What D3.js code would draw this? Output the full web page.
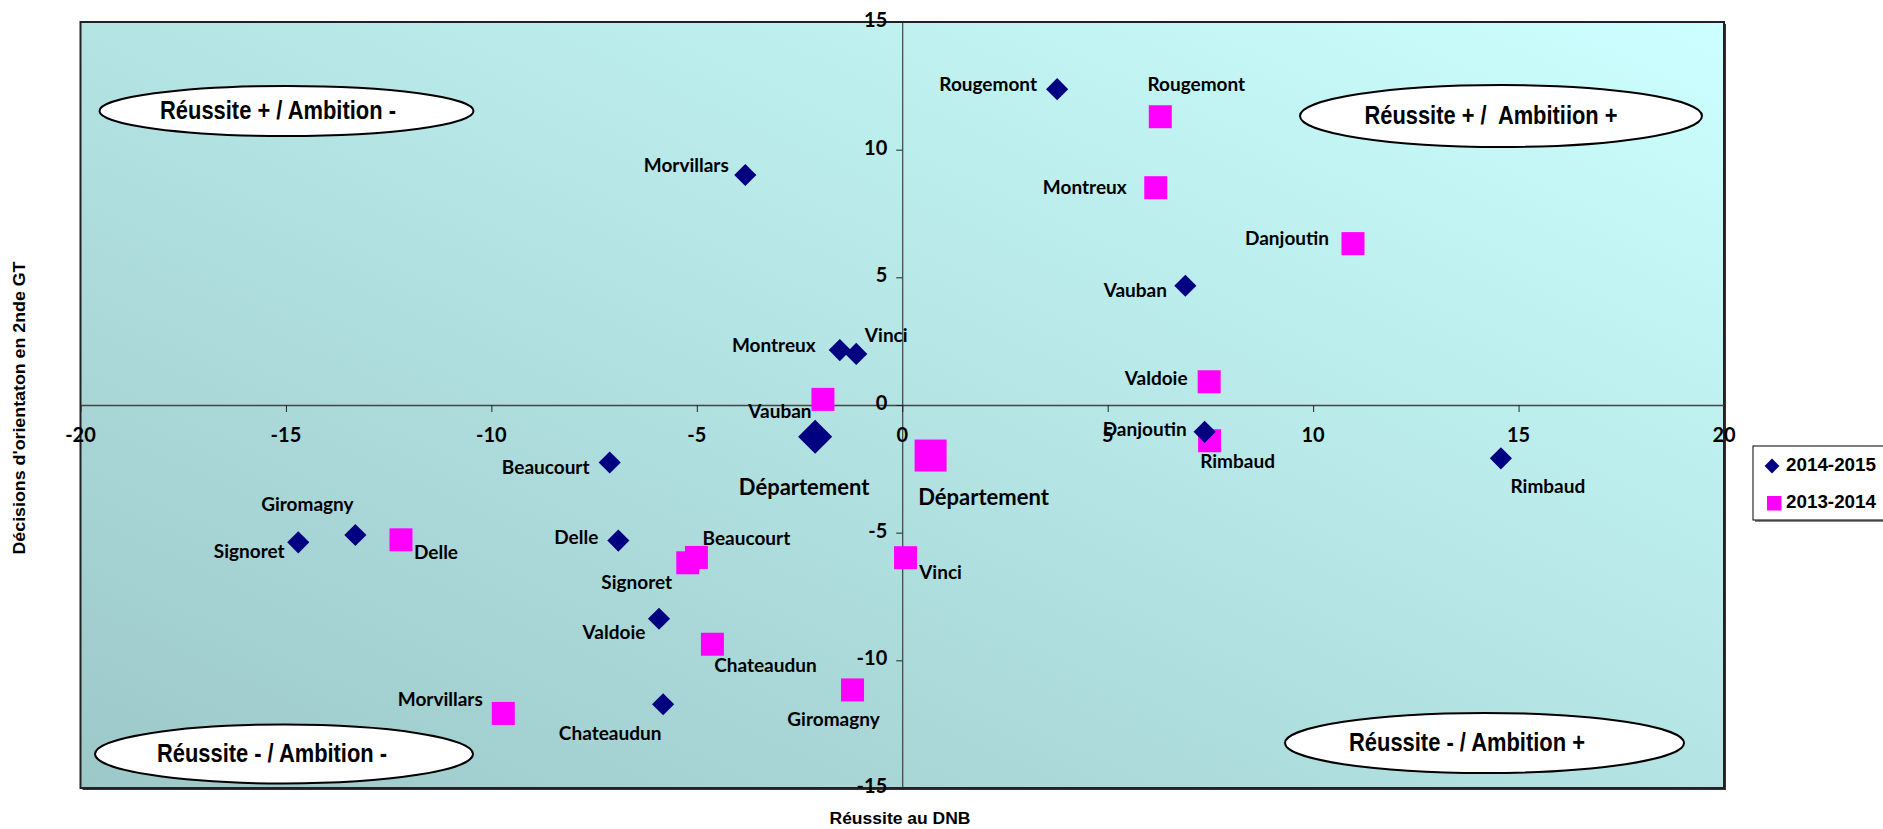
<!DOCTYPE html>
<html lang="fr">
<head>
<meta charset="utf-8">
<title>Réussite au DNB / Décisions d'orientation</title>
<style>
  body { margin: 0; background: #fff; }
  .lbl { font-family: Lato, "Open Sans", sans-serif; font-weight: bold; fill: #000; }
  .tick { font-family: Lato, sans-serif; font-weight: bold; font-size: 20px; fill: #000; }
  .ann { font-family: "Liberation Sans Narrow", "Arial Narrow", "Liberation Sans", sans-serif; font-weight: bold; font-size: 25px; white-space: pre; }
  .axt { font-family: "Liberation Sans", Arial, sans-serif; font-weight: bold; }
</style>
</head>
<body>
<script src="https://d3js.org/d3.v7.min.js"></script>
<script>
// series 2014-2015 (diamonds)
var names2015 = ["Rougemont", "Morvillars", "Montreux", "Vinci", "Vauban", "Département", "Danjoutin",
                 "Rimbaud", "Beaucourt", "Giromagny", "Signoret", "Delle", "Valdoie", "Chateaudun"];
var x2015 = [3.77, -3.82, -1.52, -1.12, 6.89, -2.12, 7.36, 14.57, -7.12, -13.31, -14.70, -6.91, -5.92, -5.82];
var y2015 = [12.37, 9.01, 2.15, 2.0, 4.67, -1.24, -1.05, -2.09, -2.25, -5.09, -5.38, -5.31, -8.37, -11.72];

// series 2013-2014 (squares)
var names2014 = ["Rougemont", "Montreux", "Danjoutin", "Valdoie", "Vauban", "Département", "Rimbaud",
                 "Vinci", "Giromagny", "Delle", "Beaucourt", "Signoret", "Chateaudun", "Morvillars"];
var x2014 = [6.28, 6.17, 10.97, 7.47, -1.93, 0.69, 7.48, 0.08, -1.21, -12.20, -5.01, -5.22, -4.62, -9.71];
var y2014 = [11.29, 8.51, 6.32, 0.91, 0.22, -1.98, -1.40, -5.98, -11.16, -5.28, -5.97, -6.18, -9.37, -12.08];

var seriesNames = ["2014-2015", "2013-2014"];
var xTicks = [-20, -15, -10, -5, 0, 5, 10, 15, 20];
var yTicks = [-15, -10, -5, 0, 5, 10, 15];

// label placement, pixel offsets from each marker (same order as names)
var off2015 = [[-69,-3],[-59,-8],[-66,-3],[30,-17],[-50,6],[-11,53],[-60,-1],
               [47,30],[-64,7],[-48,-29],[-49,11],[-42,-1],[-45,15],[-53,31]];
var off2014 = [[36,-31],[-71,1],[-66,-4],[-53,-2],[-43,14],[53,44],[28,22],
               [35,16],[-19,31],[35,14],[50,-17],[-51,21],[53,23],[-63,-12]];

var W = 1883, H = 829;
var plot = {left: 80.5, right: 1724, top: 22, bottom: 788};

var svg = d3.select("body").append("svg")
    .attr("width", W).attr("height", H);

var xScale = d3.scaleLinear().domain([-20, 20]).range([plot.left, plot.right]);
var yScale = d3.scaleLinear().domain([-15, 15]).range([plot.bottom, plot.top]);

// background gradient
var grad = svg.append("defs").append("linearGradient")
    .attr("id", "bg").attr("x1", 0).attr("y1", 1).attr("x2", 1).attr("y2", 0);
grad.append("stop").attr("offset", "0%").attr("stop-color", "#9cc8c8");
grad.append("stop").attr("offset", "100%").attr("stop-color", "#ccffff");

// shadow then plot frame
svg.append("rect")
    .attr("x", plot.left + 2).attr("y", plot.top + 2)
    .attr("width", plot.right - plot.left).attr("height", plot.bottom - plot.top)
    .attr("fill", "#333");
svg.append("rect")
    .attr("x", plot.left).attr("y", plot.top)
    .attr("width", plot.right - plot.left).attr("height", plot.bottom - plot.top)
    .attr("fill", "url(#bg)").attr("stroke", "#222").attr("stroke-width", 2);

// x axis through y = 0
var xAxis = svg.append("g")
    .attr("transform", "translate(0," + yScale(0) + ")")
    .call(d3.axisBottom(xScale).tickValues(xTicks).tickSize(7).tickSizeOuter(0).tickFormat(""));
xAxis.select(".domain").attr("stroke", "#444").attr("stroke-width", 1.5);
xAxis.selectAll(".tick line").attr("stroke", "#222");

// y axis through x = 0
var yAxis = svg.append("g")
    .attr("transform", "translate(" + xScale(0) + ",0)")
    .call(d3.axisLeft(yScale).tickValues(yTicks).tickSize(6).tickSizeOuter(0).tickFormat(""));
yAxis.select(".domain").attr("stroke", "#222").attr("stroke-width", 1);
yAxis.selectAll(".tick line").attr("stroke", "#222");

// tick labels
svg.selectAll(".xt").data(xTicks).enter().append("text")
    .attr("class", "tick")
    .attr("x", d => xScale(d)).attr("y", yScale(0) + 32)
    .attr("text-anchor", "middle").attr("dominant-baseline", "middle")
    .text(d => d);
svg.selectAll(".yt").data(yTicks).enter().append("text")
    .attr("class", "tick")
    .attr("x", xScale(0) - 15).attr("y", d => yScale(d))
    .attr("text-anchor", "end").attr("dominant-baseline", "middle")
    .text(d => d);

// annotation ellipses
var anns = [
  {t: "Réussite + / Ambition -", cx: 286.5, cy: 111, rx: 187, ry: 25, tx: 278, w: 236},
  {t: "Réussite + /  Ambitiion +", cx: 1501, cy: 116, rx: 201, ry: 31, tx: 1491, w: 253},
  {t: "Réussite - / Ambition -", cx: 284, cy: 754, rx: 189, ry: 29.5, tx: 272, w: 230},
  {t: "Réussite - / Ambition +", cx: 1484.5, cy: 743, rx: 199.5, ry: 30, tx: 1467, w: 236}
];
anns.forEach(function(a) {
  svg.append("ellipse")
      .attr("cx", a.cx).attr("cy", a.cy).attr("rx", a.rx).attr("ry", a.ry)
      .attr("fill", "#fff").attr("stroke", "#000").attr("stroke-width", 2);
  svg.append("text").attr("class", "ann")
      .attr("x", a.tx).attr("y", a.cy + 1)
      .attr("text-anchor", "middle").attr("dominant-baseline", "middle")
      .attr("textLength", a.w).attr("lengthAdjust", "spacingAndGlyphs")
      .text(a.t);
});

var pts2015 = names2015.map((n, i) => ({name: n, x: x2015[i], y: y2015[i], off: off2015[i]}));
var pts2014 = names2014.map((n, i) => ({name: n, x: x2014[i], y: y2014[i], off: off2014[i]}));
var isDept = d => d.name === "Département";

// markers 2013-2014 (squares)
svg.selectAll(".sq").data(pts2014).enter().append("rect")
    .attr("x", d => xScale(d.x) - (isDept(d) ? 16 : 11.5))
    .attr("y", d => yScale(d.y) - (isDept(d) ? 16 : 11.5))
    .attr("width", d => isDept(d) ? 32 : 23)
    .attr("height", d => isDept(d) ? 32 : 23)
    .attr("fill", "#ff00ff");

// markers 2014-2015 (diamonds)
var diamond = d3.symbol().type(d3.symbolSquare);
svg.selectAll(".dm").data(pts2015).enter().append("path")
    .attr("d", d => diamond.size(isDept(d) ? 580 : 245)())
    .attr("transform", d => "translate(" + xScale(d.x) + "," + yScale(d.y) + ") rotate(45)")
    .attr("fill", "#000080");

// data labels
function labels(pts) {
  svg.selectAll(null).data(pts).enter().append("text")
      .attr("class", "lbl")
      .attr("x", d => xScale(d.x) + d.off[0])
      .attr("y", d => yScale(d.y) + d.off[1])
      .attr("text-anchor", "middle").attr("dominant-baseline", "middle")
      .style("font-size", d => isDept(d) ? "22px" : "19px")
      .text(d => d.name);
}
labels(pts2014);
labels(pts2015);

// axis titles
svg.append("text").attr("class", "axt")
    .attr("x", 900).attr("y", 820)
    .attr("text-anchor", "middle").attr("dominant-baseline", "middle")
    .style("font-size", "16px")
    .attr("textLength", 141).attr("lengthAdjust", "spacingAndGlyphs")
    .text("Réussite au DNB");
svg.append("text").attr("class", "axt")
    .attr("transform", "translate(21,408) rotate(-90)")
    .attr("text-anchor", "middle").attr("dominant-baseline", "middle")
    .style("font-size", "16px")
    .attr("textLength", 293).attr("lengthAdjust", "spacingAndGlyphs")
    .text("Décisions d'orientaton en 2nde GT");

// legend
var lg = svg.append("g");
lg.append("rect").attr("x", 1755).attr("y", 448).attr("width", 140).attr("height", 74).attr("fill", "#888");
lg.append("rect").attr("x", 1753).attr("y", 446).attr("width", 140).attr("height", 74)
    .attr("fill", "#fff").attr("stroke", "#000").attr("stroke-width", 1);
lg.append("path")
    .attr("d", d3.symbol().type(d3.symbolSquare).size(110)())
    .attr("transform", "translate(1772,466) rotate(45)")
    .attr("fill", "#000080");
lg.append("rect").attr("x", 1767).attr("y", 496).attr("width", 14.5).attr("height", 14.5).attr("fill", "#ff00ff");
lg.selectAll(".lt").data(seriesNames).enter().append("text")
    .attr("class", "axt")
    .attr("x", 1786).attr("y", (d, i) => 466 + i * 37)
    .attr("dominant-baseline", "middle")
    .style("font-size", "18px")
    .attr("textLength", 90).attr("lengthAdjust", "spacingAndGlyphs")
    .text(d => d);
</script>
</body>
</html>
